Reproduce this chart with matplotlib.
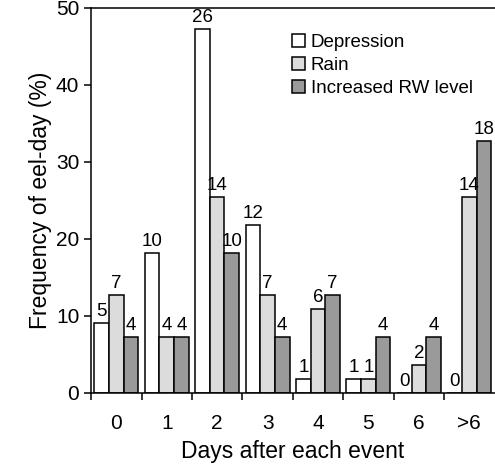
import matplotlib.pyplot as plt
import numpy as np

plt.rcParams['font.family'] = ['Liberation Sans', 'DejaVu Sans']

days = ['0', '1', '2', '3', '4', '5', '6', '>6']
depression = [9.1, 18.2, 47.3, 21.8, 1.8, 1.8, 0.0, 0.0]
rain = [12.7, 7.3, 25.5, 12.7, 10.9, 1.8, 3.6, 25.5]
rw_level = [7.3, 7.3, 18.2, 7.3, 12.7, 7.3, 7.3, 32.7]
depression_n = [5, 10, 26, 12, 1, 1, 0, 0]
rain_n = [7, 4, 14, 7, 6, 1, 2, 14]
rw_n = [4, 4, 10, 4, 7, 4, 4, 18]

fig = plt.figure(figsize=(4.95, 4.7), dpi=100)
ax = fig.add_axes([0.184, 0.164, 0.815, 0.819])

x = np.arange(len(days))
w = 0.29
series = [(depression, depression_n, 'white', 'Depression'),
          (rain, rain_n, '#dcdcdc', 'Rain'),
          (rw_level, rw_n, '#9a9a9a', 'Increased RW level')]

for i, (vals, counts, col, lab) in enumerate(series):
    pos = x + (i - 1) * w
    ax.bar(pos, vals, w, color=col, edgecolor='black', linewidth=1.1, label=lab)
    for p, v, c in zip(pos, vals, counts):
        ax.text(p, v + 0.4, str(c), ha='center', va='bottom', fontsize=13.5)

ax.set_xlim(-0.5, 7.5)
ax.set_ylim(0, 50)
ax.set_yticks([0, 10, 20, 30, 40, 50])
ax.set_xticks(np.arange(-0.5, 7.5, 1.0))
ax.set_xticklabels([])
ax.set_xticks(x, minor=True)
ax.set_xticklabels(days, minor=True)
ax.tick_params(axis='x', which='major', direction='out', length=5, width=1.1)
ax.tick_params(axis='x', which='minor', length=0, pad=15, labelsize=15)
ax.tick_params(axis='y', direction='out', length=5, width=1.1, labelsize=15)

for s in ax.spines.values():
    s.set_linewidth(1.1)
ax.spines['right'].set_visible(False)

ax.set_xlabel('Days after each event', fontsize=16.5, labelpad=5)
ax.set_ylabel('Frequency of eel-day (%)', fontsize=16.5, labelpad=3)

ax.legend(loc='upper left', bbox_to_anchor=(0.575, 0.943), bbox_transform=fig.transFigure,
          frameon=False, fontsize=13.5, handlelength=0.7, handleheight=0.7,
          handletextpad=0.3, labelspacing=0.3, borderaxespad=0)

fig.savefig('out.png', dpi=100)
